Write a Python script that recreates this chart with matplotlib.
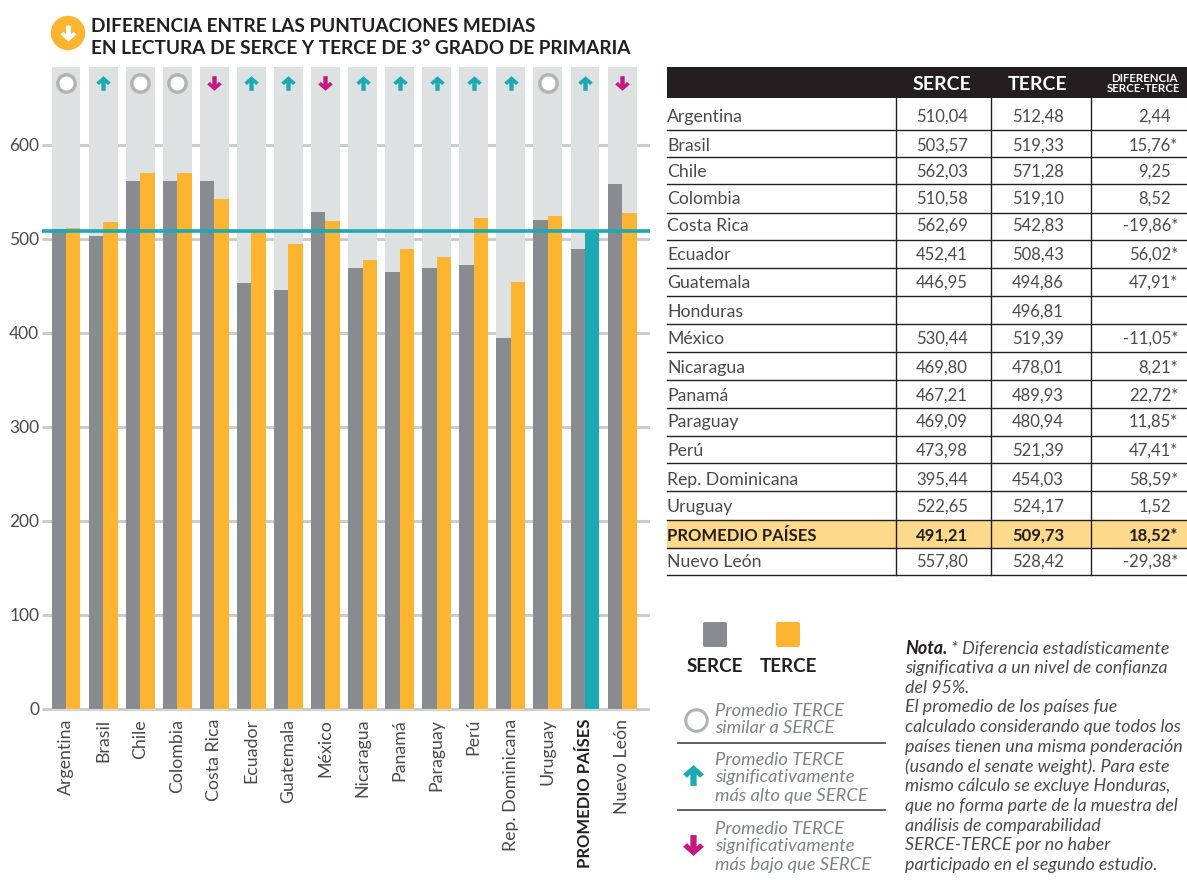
import matplotlib
matplotlib.use('Agg')
import matplotlib.pyplot as plt
from matplotlib.path import Path
from matplotlib.patches import Rectangle, FancyBboxPatch, Circle

plt.rcParams['font.family'] = ['Lato', 'DejaVu Sans']

# chart values
countries = ['Argentina', 'Brasil', 'Chile', 'Colombia', 'Costa Rica', 'Ecuador', 'Guatemala', 'México',
             'Nicaragua', 'Panamá', 'Paraguay', 'Perú', 'Rep. Dominicana', 'Uruguay', 'PROMEDIO PAÍSES', 'Nuevo León']
serce = [510, 503, 562, 562, 562, 453, 446, 529, 469, 465, 469, 472, 395, 520, 489, 558]
terce = [512, 518, 570, 570, 542, 507, 495, 519, 478, 489, 481, 522, 454, 524, 509, 528]
status = ['same', 'up', 'same', 'same', 'down', 'up', 'up', 'down', 'up', 'up', 'up', 'up', 'up', 'same', 'up', 'down']
y_ticks = [0, 100, 200, 300, 400, 500, 600]
average_line = 508

# table values
table_rows = ['Argentina', 'Brasil', 'Chile', 'Colombia', 'Costa Rica', 'Ecuador', 'Guatemala', 'Honduras', 'México',
              'Nicaragua', 'Panamá', 'Paraguay', 'Perú', 'Rep. Dominicana', 'Uruguay', 'PROMEDIO PAÍSES', 'Nuevo León']
table_serce = ['510,04', '503,57', '562,03', '510,58', '562,69', '452,41', '446,95', '', '530,44',
               '469,80', '467,21', '469,09', '473,98', '395,44', '522,65', '491,21', '557,80']
table_terce = ['512,48', '519,33', '571,28', '519,10', '542,83', '508,43', '494,86', '496,81', '519,39',
               '478,01', '489,93', '480,94', '521,39', '454,03', '524,17', '509,73', '528,42']
table_diff = ['2,44', '15,76*', '9,25', '8,52', '-19,86*', '56,02*', '47,91*', '', '-11,05*',
              '8,21*', '22,72*', '11,85*', '47,41*', '58,59*', '1,52', '18,52*', '-29,38*']
row_text_y = [116, 145, 171, 198, 225, 254, 282, 311, 338, 367, 395, 421, 450, 479, 506, 535, 561]
row_line_y = [130, 157, 184, 213, 240, 268, 296, 324, 352, 380, 408, 436, 463, 491, 520, 548, 575]

note_lines = ['significativa a un nivel de confianza', 'del 95%.', 'El promedio de los países fue',
              'calculado considerando que todos los', 'países tienen una misma ponderación',
              '(usando el senate weight). Para este', 'mismo cálculo se excluye Honduras,',
              'que no forma parte de la muestra del', 'análisis de comparabilidad',
              'SERCE-TERCE por no haber', 'participado en el segundo estudio.']

GREY = '#888c90'
ORANGE = '#fdb531'
TEAL = '#1aa9b5'
MAGENTA = '#c5177f'
BAND = '#dee1e2'
RULE = '#cccccc'
INK = '#231f20'
SOFT = '#4a4a4a'

ARROW_UP = Path([(-0.3, -1), (0.3, -1), (0.3, 0.1), (0.62, -0.22), (1.0, 0.12), (0, 1), (-1.0, 0.12), (-0.62, -0.22),
                 (-0.3, 0.1), (-0.3, -1)], closed=True)
ARROW_DOWN = Path([(x, -y) for x, y in ARROW_UP.vertices], closed=True)

W, H = 1187, 880
fig = plt.figure(figsize=(W / 100, H / 100), dpi=100)

# page axes in pixels for table, legend and notes
page = fig.add_axes([0, 0, 1, 1])
page.set_xlim(0, W)
page.set_ylim(H, 0)
page.axis('off')

# bars axes, 0 at y=708.5 and 600 at y=145
ax = fig.add_axes([42 / W, 1 - 712 / H, 608 / W, 645 / H])
ax.patch.set_alpha(0)
ax.set_xlim((42 - 66) / 37.07, (650 - 66) / 37.07)
ax.set_ylim(-3.7, 683)
for s in ax.spines.values():
    s.set_visible(False)

xs = list(range(len(countries)))
ax.hlines(y_ticks, ax.get_xlim()[0], ax.get_xlim()[1], color=RULE, lw=2.2, zorder=1)
ax.bar(xs, [683 + 2] * len(xs), bottom=-2, width=0.78, color=BAND, zorder=2)
ax.bar([x - 0.195 for x in xs], serce, width=0.39, color=GREY, zorder=3)
term_colors = [TEAL if c == 'PROMEDIO PAÍSES' else ORANGE for c in countries]
ax.bar([x + 0.195 for x in xs], terce, width=0.39, color=term_colors, zorder=3)
ax.axhline(average_line, color=TEAL, lw=2.6, zorder=4)

for x, st in zip(xs, status):
    if st == 'same':
        ax.plot(x, 666, 'o', ms=12.5, mfc='white', mec='#b0b2b4', mew=2.4, zorder=5)
    elif st == 'up':
        ax.plot(x, 666, marker=ARROW_UP, ms=10.5, color=TEAL, mew=0, zorder=5)
    else:
        ax.plot(x, 666, marker=ARROW_DOWN, ms=10.5, color=MAGENTA, mew=0, zorder=5)

ax.set_yticks(y_ticks)
ax.set_yticklabels([str(t) for t in y_ticks], fontsize=12.5, color=SOFT)
ax.tick_params(axis='y', length=0, pad=2)
ax.set_xticks(xs)
ax.set_xticklabels(countries, rotation=90, fontsize=12.8, color=SOFT)
ax.tick_params(axis='x', length=0, pad=5)
ax.get_xticklabels()[14].set_fontweight('bold')
ax.get_xticklabels()[14].set_fontsize(12)
ax.get_xticklabels()[14].set_color(INK)

# heading
page.add_patch(Circle((68, 33), 16.5, color=ORANGE))
page.plot(68, 33, marker=ARROW_DOWN, ms=11.5, color='white', mew=0)
page.text(91, 26, 'DIFERENCIA ENTRE LAS PUNTUACIONES MEDIAS', fontsize=13.7, fontweight='bold', color=INK, va='center')
page.text(91, 48, 'EN LECTURA DE SERCE Y TERCE DE 3° GRADO DE PRIMARIA', fontsize=13.7, fontweight='bold', color=INK, va='center')

# table
page.add_patch(Rectangle((667, 67), 520, 31, color='#231f20', lw=0))
page.add_patch(Rectangle((667, 520), 520, 28, color='#fdd98c', lw=0))
page.text(942, 84, 'SERCE', color='white', fontsize=14, fontweight='bold', ha='center', va='center')
page.text(1038, 84, 'TERCE', color='white', fontsize=14, fontweight='bold', ha='center', va='center')
page.text(1144, 78, 'DIFERENCIA', color='white', fontsize=8.3, fontweight='bold', ha='center', va='center')
page.text(1144, 88.5, 'SERCE-TERCE', color='white', fontsize=8.3, fontweight='bold', ha='center', va='center')

for name, a, b, d, ty, ly in zip(table_rows, table_serce, table_terce, table_diff, row_text_y, row_line_y):
    bold = name.startswith('PROMEDIO')
    weight = 'bold' if bold else 'normal'
    ink = INK if bold else SOFT
    ty = ty + 1
    page.text(667, ty, name, fontsize=12 if bold else 12.7, color=ink, fontweight=weight, va='center')
    page.text(942, ty, a, fontsize=12, color=ink, fontweight=weight, ha='center', va='center')
    page.text(1038, ty, b, fontsize=12, color=ink, fontweight=weight, ha='center', va='center')
    page.text(1178 if d.endswith('*') else 1171, ty, d, fontsize=12, color=ink, fontweight=weight, ha='right', va='center')
    page.plot([667, 1187], [ly, ly], color=INK, lw=1)
for vx in [896, 991, 1091]:
    page.plot([vx, vx], [98, 575], color=INK, lw=1)

# legend
page.add_patch(FancyBboxPatch((705, 624), 20, 21, boxstyle='round,pad=2', color=GREY, lw=0))
page.add_patch(FancyBboxPatch((778, 624), 20, 21, boxstyle='round,pad=2', color=ORANGE, lw=0))
page.text(714.5, 666, 'SERCE', fontsize=13.5, fontweight='bold', color=INK, ha='center', va='center')
page.text(788.5, 666, 'TERCE', fontsize=13.5, fontweight='bold', color=INK, ha='center', va='center')

page.plot(696, 720, 'o', ms=15.5, mfc='white', mec='#b0b2b4', mew=2.2)
page.plot(693, 775, marker=ARROW_UP, ms=15, color=TEAL, mew=0)
page.plot(693, 845, marker=ARROW_DOWN, ms=15, color=MAGENTA, mew=0)
page.plot([678, 885], [743, 743], color='#444444', lw=1.2)
page.plot([678, 885], [810, 810], color='#444444', lw=1.2)

legend_text = [(711, 'Promedio TERCE'), (728, 'similar a SERCE'), (760, 'Promedio TERCE'), (777, 'significativamente'),
               (796, 'más alto que SERCE'), (829, 'Promedio TERCE'), (846, 'significativamente'), (865, 'más bajo que SERCE')]
for ty, line in legend_text:
    page.text(715, ty, line, fontsize=13.2, style='italic', color='#808285', va='center')

# note
page.text(905, 649, 'Nota.', fontsize=12.9, style='italic', fontweight='bold', color=INK, va='center')
page.text(951, 649, '* Diferencia estadísticamente', fontsize=12.9, style='italic', color=SOFT, va='center')
for i, line in enumerate(note_lines):
    page.text(905, 668 + i * 19.7, line, fontsize=12.9, style='italic', color=SOFT, va='center')

fig.savefig('out.png', dpi=100)
